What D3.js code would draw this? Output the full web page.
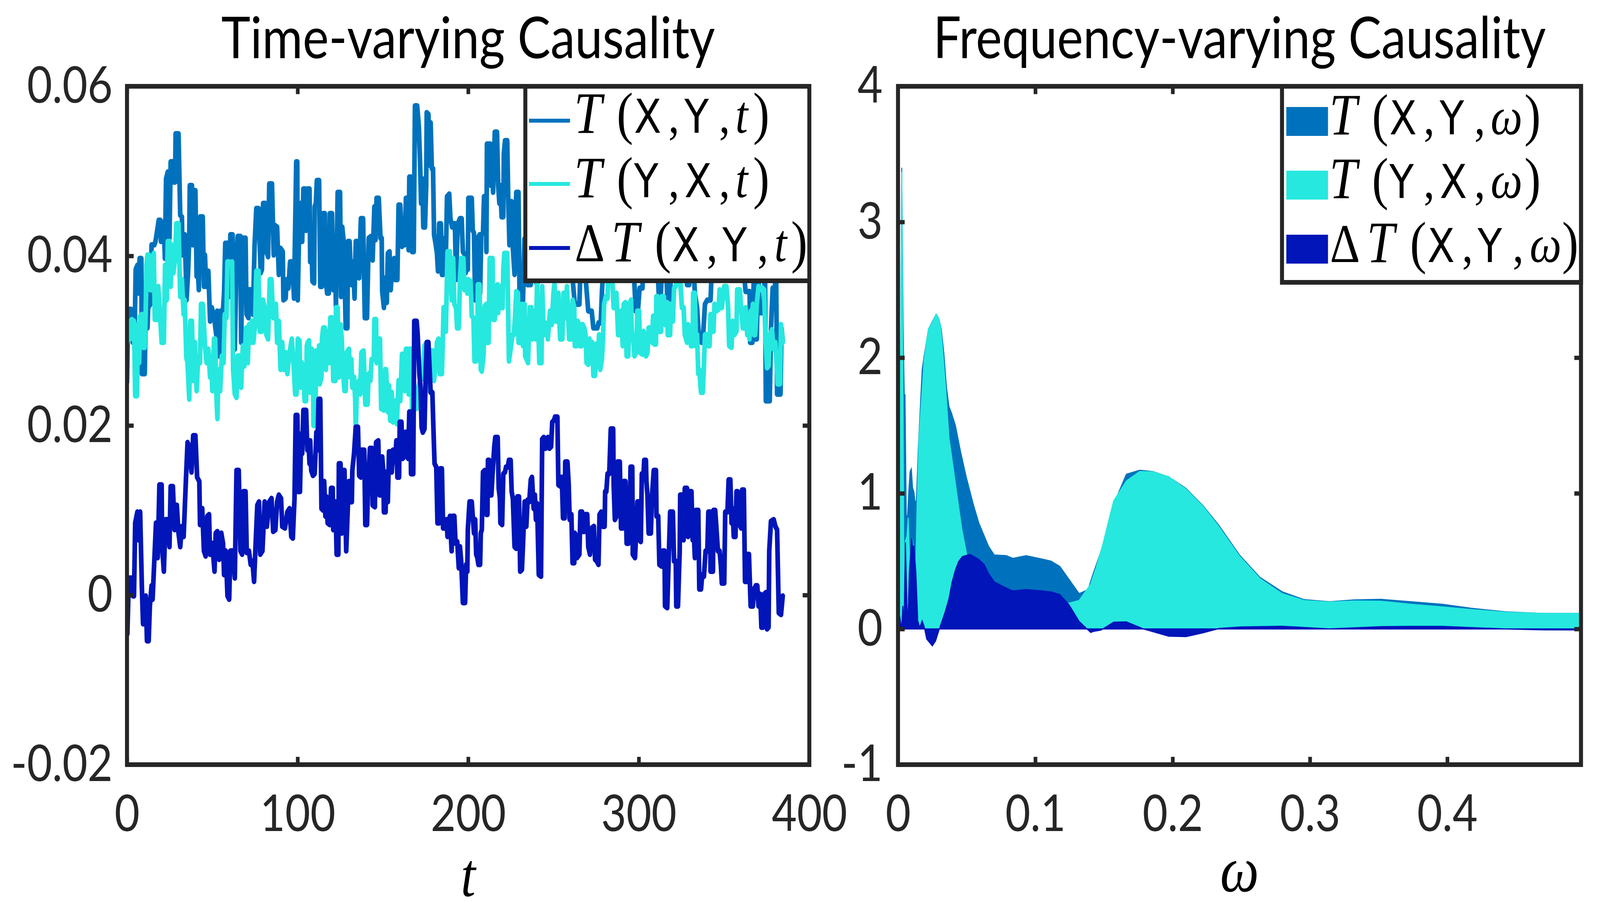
<!DOCTYPE html>
<html>
<head>
<meta charset="utf-8">
<script src="https://cdn.jsdelivr.net/npm/d3@7"></script>
<style>
  html, body { margin: 0; padding: 0; background: #fff; overflow: hidden; }
  svg { display: block; }
</style>
</head>
<body>
<div id="chart"></div>
<script>
// ---- left panel: causality over time, [t, value] ----
const timeXY = [[0,.0251],[0.8,.0337],[2.4,.0337],[3.4,.0298],[4.4,.0298],[5.1,.0384],[6.1,.0389],[6.8,.0356],[7.4,.0397],[8.4,.0397],[8.7,.0261],[10.4,.0261],[11,.0339],[12,.0315],[12.4,.0339],[13.7,.0343],[14.4,.0413],[16,.0413],[16.7,.0417],[17.7,.0430],[18.6,.0442],[19.6,.0442],[19.9,.0417],[20.9,.0417],[21.6,.0440],[22.2,.0397],[22.9,.0491],[23.9,.0499],[24.9,.0421],[25.6,.0511],[26.9,.0511],[27.2,.0487],[28.2,.0487],[28.5,.0544],[30.2,.0544],[31.2,.0448],[32.2,.0446],[32.5,.0401],[33.2,.0425],[33.9,.0425],[34.9,.0348],[35.8,.0380],[36.5,.0421],[36.8,.0483],[38.1,.0483],[38.5,.0413],[39.1,.0477],[40.1,.0477],[40.8,.0376],[41.4,.0389],[42.1,.0360],[42.8,.0446],[44.4,.0446],[45.1,.0364],[45.7,.0401],[46.4,.0364],[47.7,.0382],[48.7,.0323],[49.7,.0339],[51,.0329],[52.3,.0307],[52.9,.0335],[53.9,.0282],[54.9,.0335],[55.6,.0282],[56.3,.0337],[56.9,.0356],[57.6,.0415],[59.3,.0415],[59.9,.0352],[60.6,.0425],[61.9,.0425],[62.6,.0331],[63.2,.0290],[64.2,.0393],[64.9,.0423],[66.5,.0423],[66.9,.0298],[67.9,.0421],[69.5,.0421],[70.1,.0331],[71.2,.0327],[71.5,.0360],[72.8,.0360],[73.8,.0331],[74.8,.0413],[75.8,.0456],[77.1,.0456],[77.8,.0413],[78.4,.0380],[79.1,.0384],[79.8,.0462],[81.1,.0462],[81.7,.0405],[82.7,.0399],[83.4,.0485],[85,.0485],[86,.0401],[86.7,.0436],[88,.0434],[89,.0378],[90,.0409],[91.3,.0405],[91.7,.0348],[93,.0350],[93.6,.0372],[94.6,.0362],[95.6,.0393],[96.9,.0393],[97.9,.0350],[99.2,.0511],[99.8,.0511],
  [100.1,.0348],[100.7,.0409],[101.4,.0462],[102.1,.0458],[102.7,.0417],[103.4,.0479],[104.4,.0479],[105,.0430],[105.7,.0479],[107,.0479],[107.4,.0393],[108,.0434],[108.7,.0370],[109.7,.0368],[110,.0458],[110.7,.0462],[111.3,.0489],[112.6,.0489],[113.3,.0364],[114.3,.0364],[115,.0450],[116,.0450],[116.3,.0378],[117.3,.0356],[118.3,.0356],[118.9,.0450],[120.2,.0450],[120.9,.0360],[121.9,.0397],[122.5,.0339],[123.5,.0475],[124.9,.0475],[125.5,.0352],[126.2,.0434],[127.2,.0413],[128.2,.0315],[129.2,.0315],[129.5,.0417],[130.5,.0417],[131.5,.0366],[132.5,.0393],[133.4,.0350],[134.1,.0417],[135.1,.0417],[136.1,.0374],[137.1,.0444],[138.4,.0444],[139.4,.0327],[140.7,.0327],[141.7,.0421],[143,.0423],[144,.0395],[145,.0458],[145.7,.0419],[146.3,.0468],[147.6,.0468],[148.6,.0421],[149.3,.0421],[149.6,.0358],[150.6,.0339],[151.6,.0374],[152.3,.0345],[152.9,.0403],[153.9,.0405],[154.6,.0360],[155.6,.0393],[156.6,.0397],[157.2,.0372],[158.5,.0372],[159.2,.0460],[160.2,.0460],[161.2,.0411],[162.2,.0444],[162.8,.0413],[163.5,.0468],[164.5,.0468],[165.1,.0407],[165.5,.0493],[166.5,.0493],[167.1,.0405],[168.1,.0405],[168.8,.0577],[170.1,.0577],[171.1,.0552],[171.8,.0511],[172.4,.0462],[173.1,.0491],[173.7,.0434],[174.7,.0434],[175.4,.0483],[175.7,.0569],[176.7,.0567],[177.4,.0507],[178,.0557],[178.7,.0503],[179.4,.0503],[180,.0425],[181,.0413],[181.7,.0403],[182.3,.0382],[183,.0438],[184,.0438],[184.6,.0378],[185.3,.0378],[186.3,.0421],[186.9,.0395],[187.6,.0470],[188.9,.0473],[189.6,.0444],[190.6,.0434],[191.2,.0438],[192.2,.0438],[192.9,.0372],[193.9,.0438],[195.2,.0444],[196.2,.0444],[196.9,.0405],[198.2,.0401],[198.5,.0380],[199.2,.0384],[199.8,.0384],
  [200.1,.0468],[202.1,.0468],[202.7,.0430],[203.4,.0427],[204.1,.0348],[204.7,.0421],[205.7,.0421],[206.7,.0425],[207,.0356],[207.7,.0425],[208.7,.0427],[209.3,.0470],[210.3,.0470],[210.7,.0405],[211,.0532],[213,.0532],[213.3,.0483],[214,.0524],[214.6,.0475],[215.6,.0546],[216.9,.0546],[217.6,.0483],[218.3,.0462],[218.9,.0483],[219.6,.0446],[220.6,.0446],[220.9,.0520],[221.6,.0536],[222.9,.0536],[223.5,.0466],[224.2,.0413],[224.9,.0464],[225.5,.0464],[226.2,.0409],[227.2,.0378],[227.5,.0425],[228.2,.0475],[229.5,.0475],[230.1,.0356],[230.8,.0348],[231.5,.0380],[232.1,.0343],[233,.0420],[234.8,.0366],[236.7,.0366],[238,.0440],[240,.0368],[240.7,.0368],[242,.0452],[244,.0410],[246,.0470],[248,.0420],[250,.0445],[252,.0400],[254,.0460],[256,.0415],[258,.0438],[260,.0402],[262.5,.0343],[265.2,.0343],[266.5,.0430],[268,.0395],[270.4,.0335],[272.4,.0335],[273.4,.0315],[275.7,.0315],[276.4,.0321],[277.7,.0321],[278.4,.0356],[280,.0420],[282,.0395],[284,.0450],[286,.0410],[288,.0438],[290,.0400],[292,.0455],[294,.0412],[296,.0430],[298.2,.0335],[299.5,.0335],
  [300.5,.0362],[302.2,.0362],[303,.0420],[305,.0455],[307,.0405],[309,.0440],[310.5,.0410],[311.7,.0356],[313,.0356],[314.5,.0430],[316,.0400],[316.7,.0348],[318.4,.0348],[319.5,.0445],[321.5,.0405],[323.5,.0460],[325.5,.0415],[327,.0440],[328.3,.0366],[329.6,.0366],[331,.0430],[332.9,.0356],[334.2,.0339],[335.2,.0307],[336.2,.0307],[336.8,.0298],[337.5,.0298],[338.8,.0343],[340.2,.0348],[342.1,.0348],[343.5,.0420],[345.5,.0395],[347.5,.0445],[349.5,.0400],[351.5,.0430],[353.5,.0410],[355.5,.0450],[357.5,.0405],[359.5,.0440],[361,.0400],[362.6,.0358],[365,.0358],[365.3,.0298],[366.6,.0298],[367.5,.0380],[368.2,.0302],[369.2,.0302],[370,.0385],[370.9,.0333],[373.2,.0333],[374,.0390],[374.5,.0229],[376.8,.0229],[377.5,.0313],[378.5,.0362],[379.8,.0362],[380.5,.0390],[381.1,.0237],[383.1,.0237],[383.7,.0315],[384.4,.0300]];

const timeYX = [[0,.0298],[0.8,.0323],[1.8,.0302],[2.8,.0325],[4.1,.0323],[4.8,.0235],[5.8,.0235],[6.4,.0319],[7.1,.0274],[7.7,.0329],[8.7,.0331],[9.4,.0292],[10.4,.0292],[11,.0339],[11.4,.0389],[12,.0401],[13,.0401],[13.7,.0360],[14.7,.0360],[15.7,.0403],[16.3,.0325],[17.7,.0325],[18.3,.0364],[19,.0343],[20.3,.0298],[21.6,.0298],[22.3,.0389],[23.3,.0348],[23.9,.0417],[24.9,.0417],[25.6,.0364],[26.2,.0413],[27.2,.0380],[28.2,.0397],[28.9,.0438],[30.2,.0438],[31.2,.0352],[32.2,.0372],[33.2,.0331],[33.8,.0348],[34.8,.0280],[35.5,.0274],[36.5,.0231],[37.1,.0323],[38.1,.0323],[38.8,.0253],[39.8,.0298],[40.8,.0241],[41.8,.0282],[42.8,.0274],[43.4,.0343],[44.4,.0343],[45.1,.0319],[45.7,.0294],[46.7,.0274],[47.7,.0290],[48.7,.0257],[49.4,.0282],[50,.0241],[51,.0302],[51.7,.0302],[52.3,.0241],[53,.0208],[53.6,.0266],[54.6,.0241],[55.6,.0282],[56.6,.0274],[57.3,.0331],[58.3,.0327],[58.9,.0393],[59.9,.0393],[60.6,.0391],[61.6,.0393],[62.2,.0266],[63.2,.0237],[64.2,.0233],[64.9,.0282],[65.9,.0282],[66.9,.0245],[67.9,.0294],[68.8,.0270],[69.8,.0315],[70.8,.0274],[71.5,.0319],[72.5,.0298],[73.1,.0323],[74.1,.0298],[75.1,.0319],[75.8,.0382],[77.1,.0382],[77.8,.0311],[79.1,.0311],[79.7,.0348],[80.7,.0339],[81.7,.0307],[82.7,.0302],[83.7,.0372],[84.7,.0372],[85.7,.0327],[86.7,.0331],[87.3,.0343],[88,.0298],[89,.0323],[90,.0266],[91,.0298],[92,.0266],[93,.0286],[94,.0261],[95.3,.0286],[96.6,.0302],[97.6,.0274],[98.6,.0237],[99.4,.0237],
  [100.1,.0302],[101.1,.0300],[101.7,.0245],[102.4,.0274],[103.4,.0266],[104.1,.0229],[105,.0229],[105.4,.0294],[106,.0298],[106.7,.0300],[107.4,.0239],[108.3,.0290],[109,.0288],[109.3,.0200],[110.3,.0200],[111,.0288],[112,.0266],[112.6,.0294],[113,.0249],[114,.0257],[114.3,.0302],[115,.0315],[116,.0315],[116.6,.0266],[117.6,.0311],[118.6,.0274],[119.2,.0327],[120.2,.0327],[120.9,.0253],[122.2,.0253],[122.5,.0339],[123.5,.0339],[124.2,.0257],[125.2,.0319],[125.9,.0302],[126.5,.0266],[127.5,.0241],[128.2,.0241],[128.8,.0286],[130.1,.0290],[130.8,.0257],[131.5,.0278],[132.1,.0245],[133.1,.0257],[133.8,.0229],[134.1,.0192],[134.8,.0249],[136.1,.0253],[136.7,.0237],[137.4,.0286],[138.7,.0288],[139.7,.0225],[141,.0225],[141.7,.0261],[142.7,.0253],[143.4,.0278],[144.7,.0278],[145,.0325],[146,.0325],[146.3,.0274],[147.3,.0302],[148.3,.0302],[149,.0220],[150.6,.0218],[151.3,.0266],[151.9,.0266],[152.9,.0216],[153.6,.0247],[154.3,.0206],[155.2,.0239],[155.9,.0204],[157.2,.0229],[158.2,.0202],[159.2,.0253],[160.2,.0229],[161.2,.0284],[162.2,.0284],[162.8,.0241],[163.5,.0290],[164.5,.0290],[165.1,.0237],[165.8,.0290],[166.8,.0290],[167.1,.0220],[169.8,.0220],[170.8,.0245],[172.4,.0257],[173.4,.0255],[174.4,.0294],[175.7,.0298],[177,.0241],[178,.0288],[179.4,.0288],[180,.0253],[181,.0274],[181.7,.0298],[182.6,.0302],[183.3,.0261],[184.6,.0261],[185,.0290],[185.6,.0339],[186.9,.0311],[187.9,.0405],[189.3,.0405],[190.3,.0348],[191.2,.0397],[191.9,.0343],[192.9,.0339],[193.5,.0315],[194.5,.0315],[195.2,.0374],[195.9,.0397],[197.2,.0397],[197.8,.0360],[198.8,.0372],[199.5,.0356],
  [200.1,.0372],[201.4,.0370],[202.1,.0329],[203.1,.0327],[203.7,.0276],[204.7,.0276],[205.4,.0298],[205.7,.0366],[206.7,.0366],[207.4,.0266],[208,.0264],[209,.0282],[209.7,.0341],[210.7,.0343],[211,.0298],[212,.0298],[212.6,.0397],[214.3,.0397],[214.6,.0325],[215.6,.0325],[216.3,.0364],[217.3,.0366],[217.6,.0333],[218.3,.0358],[218.9,.0364],[219.2,.0339],[220.2,.0339],[220.6,.0384],[221.2,.0403],[222.9,.0403],[223.9,.0276],[224.9,.0290],[225.9,.0307],[226.8,.0307],[227.5,.0329],[228.2,.0358],[229.2,.0356],[229.5,.0298],[230.5,.0298],[231.5,.0343],[232.1,.0294],[233.1,.0343],[233.4,.0282],[235.1,.0274],[236.1,.0339],[237.1,.0339],[237.7,.0302],[238.7,.0335],[239.7,.0302],[240.4,.0368],[241.7,.0274],[243,.0274],[243.4,.0364],[244.3,.0307],[245.3,.0321],[246.7,.0302],[248,.0335],[249,.0319],[250,.0356],[250.6,.0368],[251.3,.0323],[252.3,.0323],[252.9,.0356],[253.9,.0302],[255.2,.0302],[255.9,.0356],[257.2,.0327],[257.9,.0364],[259.2,.0302],[260.5,.0302],[261.2,.0348],[262.2,.0339],[262.5,.0294],[263.5,.0294],[264.2,.0323],[265.2,.0319],[265.5,.0294],[266.5,.0294],[267.1,.0319],[268.1,.0315],[268.8,.0307],[269.4,.0274],[270.4,.0272],[271.1,.0302],[272.1,.0280],[272.7,.0298],[273.4,.0259],[274.4,.0259],[275.1,.0296],[276.1,.0270],[276.7,.0307],[277.4,.0266],[278.4,.0278],[279,.0302],[279.7,.0343],[280.7,.0352],[281.7,.0350],[282.3,.0389],[283.3,.0389],[284.3,.0380],[285.3,.0339],[286.3,.0339],[286.9,.0356],[287.9,.0307],[288.9,.0307],[289.6,.0335],[290.6,.0294],[291.2,.0343],[292.2,.0345],[292.9,.0282],[293.9,.0282],[294.5,.0343],[295.5,.0348],[295.9,.0311],[296.9,.0298],[297.5,.0282],[298.5,.0286],[299.2,.0335],
  [300.2,.0335],[300.8,.0286],[302.2,.0284],[302.8,.0311],[303.5,.0307],[304.2,.0282],[305.1,.0286],[305.8,.0315],[307.1,.0315],[307.8,.0298],[308.4,.0329],[309.1,.0296],[310.1,.0296],[310.3,.0352],[311.1,.0352],[311.7,.0311],[313.1,.0311],[313.4,.0352],[314.7,.0352],[315.4,.0319],[316,.0319],[316.7,.0345],[317,.0307],[318.4,.0307],[318.7,.0343],[319.3,.0327],[320,.0323],[320.7,.0362],[321.7,.0364],[323,.0380],[324.3,.0372],[325.3,.0339],[326.3,.0339],[327,.0307],[328.3,.0298],[328.9,.0319],[329.9,.0315],[330.6,.0294],[331.6,.0294],[331.9,.0356],[332.9,.0356],[333.5,.0294],[334.2,.0307],[334.9,.0261],[335.5,.0266],[336.5,.0239],[337.5,.0239],[338.2,.0270],[338.8,.0307],[340.2,.0307],[340.5,.0294],[341.5,.0294],[342.1,.0331],[342.8,.0311],[343.8,.0311],[344.4,.0343],[345.4,.0335],[346.8,.0337],[347.4,.0360],[348.7,.0339],[350.1,.0364],[351.4,.0364],[352.4,.0339],[353,.0294],[354.4,.0292],[355,.0323],[356,.0307],[357.3,.0311],[357.7,.0360],[359.3,.0360],[360,.0339],[361,.0315],[362.3,.0315],[362.6,.0339],[363.6,.0307],[364.3,.0331],[364.9,.0302],[365.6,.0335],[366.2,.0315],[366.9,.0343],[367.6,.0307],[368.2,.0307],[369.2,.0343],[370.2,.0364],[371.2,.0360],[372.5,.0362],[373.5,.0360],[374.2,.0307],[375.2,.0268],[376.1,.0270],[376.8,.0307],[378.1,.0313],[379.1,.0290],[380.1,.0298],[380.8,.0274],[381.4,.0249],[382.8,.0249],[383.4,.0319],[384.4,.0298]];

const timeDelta = [[0.2,-.0046],[1.1,.0020],[2.8,.0020],[3.5,-.0001],[4.1,-.0001],[4.8,.0085],[6.1,.0098],[6.8,.0065],[7.7,.0098],[8.7,.0011],[9.4,-.0034],[10.4,-.0030],[11,-.0001],[11.7,-.0054],[12.7,-.0054],[13.4,-.0013],[14.4,.0011],[15,-.0005],[16,.0040],[17,.0085],[18,.0044],[19,.0130],[20.3,.0130],[20.6,.0057],[21.6,.0028],[22.6,.0089],[24.3,.0089],[24.9,.0057],[25.6,.0128],[26.9,.0128],[27.9,.0077],[29.2,.0106],[30.2,.0073],[31.2,.0057],[32.2,.0081],[33.2,.0069],[34.5,.0134],[35.5,.0180],[36.5,.0175],[37.8,.0145],[38.8,.0188],[40.1,.0188],[41.1,.0139],[42.4,.0134],[42.8,.0083],[44.1,.0102],[45.1,.0052],[46.1,.0046],[47.1,.0093],[48.1,.0095],[48.7,.0048],[50,.0061],[51.3,.0028],[52,.0073],[53,.0075],[54,.0042],[55.3,.0073],[56.3,.0061],[56.9,.0024],[57.9,.0052],[58.9,-.0001],[59.9,-.0005],[60.6,.0052],[62.2,.0052],[63.2,.0020],[64.2,.0147],[65.5,.0147],[66.5,.0052],[67.5,.0048],[68.2,.0122],[69.5,.0122],[70.2,.0050],[71.5,.0052],[72.5,.0036],[73.5,.0040],[74.5,.0016],[75.5,.0065],[76.4,.0106],[77.4,.0110],[78.1,.0048],[79.4,.0052],[80.7,.0110],[82,.0081],[83.4,.0110],[84.7,.0114],[85.7,.0075],[87,.0077],[88,.0110],[89,.0118],[90.3,.0114],[91,.0081],[92.6,.0079],[94,.0098],[95.3,.0102],[96.3,.0069],[97.2,.0067],[98.2,.0114],[98.9,.0212],[99.9,.0212],
  [100.4,.0122],[101.4,.0122],[102.1,.0190],[102.7,.0167],[103.4,.0218],[105,.0218],[105.7,.0171],[106.4,.0182],[107,.0155],[107.4,.0182],[108,.0147],[109,.0141],[110,.0143],[110.7,.0175],[111,.0192],[111.6,.0171],[112.3,.0231],[113.3,.0231],[114,.0102],[115,.0100],[115.6,.0134],[116.3,.0093],[116.9,.0116],[117.6,.0085],[118.9,.0083],[119.6,.0126],[120.6,.0126],[120.9,.0077],[121.6,.0077],[122.2,.0110],[122.9,.0048],[123.9,.0048],[124.2,.0155],[125.2,.0155],[125.9,.0073],[126.5,.0147],[127.5,.0147],[128.5,.0052],[129.5,.0106],[130.1,.0134],[131.1,.0110],[131.8,.0110],[132.1,.0147],[133.1,.0167],[134.1,.0198],[135.4,.0198],[136.1,.0141],[137.1,.0139],[137.4,.0171],[139.1,.0171],[139.7,.0083],[140.7,.0083],[141.4,.0134],[142.4,.0173],[143.7,.0173],[144,.0106],[145.3,.0104],[146,.0180],[147.3,.0182],[148,.0118],[148.9,.0118],[149.6,.0163],[150.3,.0145],[150.6,.0098],[151.6,.0098],[151.9,.0145],[152.9,.0110],[153.6,.0169],[154.6,.0169],[155.2,.0145],[155.9,.0171],[156.9,.0171],[157.2,.0157],[157.9,.0182],[158.5,.0139],[159.5,.0139],[159.9,.0204],[160.9,.0204],[161.5,.0161],[162.5,.0163],[163.2,.0192],[164.2,.0192],[164.8,.0161],[165.5,.0216],[166.1,.0216],[166.5,.0143],[167.8,.0143],[168.4,.0323],[169.8,.0323],[170.4,.0307],[171.4,.0261],[172.1,.0245],[172.7,.0198],[173.4,.0192],[174.4,.0196],[175.1,.0261],[175.7,.0298],[176.7,.0298],[177.4,.0266],[178,.0239],[179,.0239],[179.7,.0192],[180.3,.0155],[181.3,.0151],[182,.0085],[183,.0085],[183.6,.0149],[184.6,.0149],[185.3,.0079],[186.3,.0079],[187.3,.0089],[187.9,.0069],[188.6,.0087],[189.3,.0093],[190.3,.0052],[190.9,.0093],[191.9,.0093],[192.6,.0061],[193.6,.0063],[194.5,.0032],[195.2,.0057],[195.9,.0040],[196.9,-.0009],[198.2,-.0009],[198.8,.0036],[199.5,.0028],
  [199.8,.0077],[200.8,.0110],[202.1,.0110],[202.7,.0093],[203.4,.0073],[204.1,.0089],[204.7,.0048],[205.4,.0044],[206,.0036],[207,.0036],[207.4,.0073],[208,.0077],[208.7,.0145],[209.7,.0147],[210.7,.0095],[211.3,.0095],[211.6,.0159],[212.3,.0159],[212.6,.0118],[213.6,.0118],[214.3,.0143],[215.3,.0175],[215.9,.0186],[217.3,.0186],[217.9,.0126],[218.6,.0114],[218.9,.0085],[219.9,.0083],[220.6,.0143],[221.6,.0145],[222.2,.0151],[223.2,.0151],[223.9,.0159],[224.9,.0159],[225.5,.0122],[226.2,.0114],[227.2,.0057],[228.2,.0055],[228.8,.0116],[229.8,.0116],[230.5,.0028],[231.5,.0030],[232.1,.0057],[233.1,.0110],[234.1,.0081],[234.8,.0112],[235.8,.0110],[236.7,.0136],[237.4,.0139],[238.4,.0102],[239.1,.0118],[239.7,.0089],[240.4,.0108],[241.4,.0024],[242.7,.0022],[243.4,.0184],[244.3,.0186],[245.3,.0173],[246.7,.0186],[247.6,.0173],[248.6,.0175],[249.3,.0204],[250.3,.0206],[250.9,.0210],[252.3,.0210],[252.9,.0130],[254.3,.0128],[254.9,.0139],[255.6,.0091],[256.6,.0091],[256.9,.0157],[258.2,.0157],[258.9,.0132],[259.5,.0089],[260.5,.0095],[261.2,.0038],[262.2,.0038],[262.5,.0073],[263.5,.0069],[263.8,.0044],[265.2,.0048],[265.8,.0098],[266.8,.0098],[267.5,.0075],[268.1,.0075],[268.8,.0095],[269.8,.0095],[270.4,.0057],[271.4,.0048],[272.4,.0079],[273.7,.0081],[274.4,.0042],[275.4,.0040],[276.4,.0036],[277,.0095],[278,.0098],[279,.0081],[280,.0081],[280.3,.0122],[281,.0122],[281.7,.0143],[282.7,.0143],[283.6,.0196],[285,.0196],[285.3,.0130],[286,.0089],[287,.0093],[287.6,.0157],[288.9,.0157],[289.6,.0079],[290.6,.0079],[291.2,.0134],[292.2,.0134],[292.9,.0061],[293.9,.0061],[294.5,.0067],[295.2,.0151],[296.2,.0151],[296.5,.0048],[297.8,.0044],[298.5,.0073],[299.2,.0110],
  [300.2,.0110],[300.5,.0065],[301.2,.0063],[301.8,.0143],[302.8,.0143],[303.2,.0159],[304.2,.0159],[304.5,.0134],[305.1,.0118],[305.8,.0073],[307.1,.0073],[307.8,.0118],[308.8,.0147],[310.1,.0147],[310.4,.0093],[311.4,.0093],[312.1,.0036],[313.4,.0034],[314.1,.0052],[315.1,.0052],[315.4,-.0013],[316.7,-.0015],[317.4,.0032],[318.4,.0098],[320,.0098],[320.7,.0040],[321.7,.0040],[322,-.0013],[323,-.0013],[324,.0052],[324.3,.0118],[325.6,.0118],[326.3,.0065],[327,.0126],[328.3,.0126],[328.9,.0069],[329.6,.0122],[330.9,.0122],[331.6,.0065],[332.2,.0077],[332.9,.0044],[333.5,.0100],[334.9,.0100],[335.5,.0007],[336.5,.0007],[337.2,.0024],[338.2,.0022],[339.2,.0052],[340.2,.0052],[340.8,.0098],[341.8,.0098],[342.1,.0028],[343.5,.0028],[343.8,.0100],[344.8,.0100],[345.4,.0083],[346.4,.0052],[347.4,.0052],[348.1,.0036],[348.7,.0014],[350.1,.0014],[350.7,.0098],[352,.0098],[352.7,.0136],[353.7,.0136],[354.4,.0085],[355,.0102],[355.7,.0069],[356.7,.0069],[357.3,.0122],[358,.0122],[358.6,.0085],[360,.0079],[360.6,.0124],[361.6,.0124],[362.3,.0016],[363.3,.0016],[363.9,.0048],[364.6,.0048],[365.6,-.0013],[366.9,-.0013],[367.6,.0007],[368.6,.0011],[369.5,.0011],[370.2,-.0013],[371.2,.0001],[371.9,-.0038],[372.8,-.0038],[373.5,.0001],[374.5,.0003],[375.2,-.0040],[376.1,-.0038],[376.5,.0052],[377.5,.0087],[379.1,.0089],[380.1,.0081],[381.1,.0077],[382.1,-.0021],[383.4,-.0023],[384.4,-.0001]];

// ---- right panel: causality over frequency, [omega, value] ----
const freqXY = [[0,1.90],[0.0018,1.71],[0.0027,3.40],[0.0037,2.26],[0.0046,1.69],[0.0051,1.73],[0.0060,0.84],[0.0069,0.82],[0.0079,1.02],[0.0088,1.16],[0.0097,1.18],[0.0106,1.04],[0.0116,1.01],[0.0125,0.92],[0.0134,0.95],[0.0148,1.33],[0.0176,1.91],[0.0190,2.01],[0.0222,2.21],[0.0278,2.32],[0.0297,2.29],[0.0315,2.21],[0.0334,2.03],[0.0353,1.78],[0.0371,1.64],[0.0390,1.59],[0.0418,1.50],[0.0455,1.31],[0.0497,1.12],[0.0548,0.92],[0.0589,0.78],[0.0659,0.61],[0.0701,0.545],[0.0789,0.54],[0.0836,0.52],[0.0933,0.54],[0.1049,0.515],[0.1114,0.50],[0.1179,0.46],[0.1319,0.26],[0.1384,0.29],[0.1422,0.41],[0.1502,0.64],[0.1571,0.92],[0.1663,1.14],[0.1760,1.17],[0.1857,1.16],[0.1972,1.12],[0.2098,1.035],[0.2224,0.905],[0.2339,0.76],[0.2487,0.545],[0.2636,0.38],[0.2797,0.274],[0.2957,0.216],[0.3141,0.200],[0.3323,0.214],[0.3518,0.218],[0.3736,0.200],[0.3965,0.182],[0.4171,0.153],[0.4423,0.126],[0.4698,0.114],[0.4974,0.114]];

const freqYX = [[0,0.57],[0.0011,0.57],[0.0023,2.60],[0.0027,3.37],[0.0032,2.65],[0.0039,1.17],[0.0044,0.05],[0.0051,0.64],[0.0065,0.68],[0.0074,0.82],[0.0088,0.42],[0.0102,0.67],[0.0130,0.47],[0.0139,0.91],[0.0153,1.41],[0.0176,1.76],[0.0190,1.98],[0.0209,2.13],[0.0222,2.21],[0.0250,2.26],[0.0278,2.32],[0.0297,2.29],[0.0311,2.22],[0.0329,2.01],[0.0348,1.76],[0.0371,1.41],[0.0399,1.21],[0.0436,0.94],[0.0464,0.74],[0.0501,0.545],[0.0548,0.39],[0.0659,0.17],[0.0701,0.19],[0.0836,0.24],[0.0933,0.255],[0.1114,0.225],[0.1179,0.20],[0.1244,0.19],[0.1319,0.21],[0.1403,0.33],[0.1445,0.46],[0.1491,0.62],[0.1525,0.76],[0.1571,0.945],[0.1663,1.09],[0.1760,1.16],[0.1857,1.158],[0.1972,1.12],[0.2098,1.03],[0.2224,0.90],[0.2339,0.75],[0.2487,0.536],[0.2636,0.371],[0.2797,0.26],[0.2957,0.21],[0.3141,0.198],[0.3323,0.206],[0.3518,0.204],[0.3736,0.182],[0.3965,0.162],[0.4171,0.143],[0.4423,0.123],[0.4698,0.114],[0.4974,0.114]];

const freqDelta = [[0,0.0],[0.0011,0.10],[0.0027,0.0],[0.0035,0.17],[0.0044,0.05],[0.0054,0.64],[0.0065,0.17],[0.0072,0.05],[0.0083,0.42],[0.0100,0.67],[0.0106,0.61],[0.0116,0.61],[0.0130,0.42],[0.0144,0.06],[0.0158,0.01],[0.0176,0.06],[0.0190,0.02],[0.0209,-0.074],[0.0250,-0.124],[0.0274,-0.087],[0.0301,0.0],[0.0343,0.124],[0.0371,0.223],[0.0394,0.347],[0.0418,0.434],[0.0441,0.496],[0.0469,0.533],[0.0524,0.55],[0.0585,0.515],[0.0627,0.476],[0.0659,0.41],[0.0701,0.347],[0.0761,0.315],[0.0836,0.28],[0.0933,0.29],[0.1049,0.28],[0.1114,0.273],[0.1179,0.253],[0.1244,0.18],[0.1319,0.055],[0.1403,-0.025],[0.1422,-0.018],[0.1479,-0.008],[0.1571,0.05],[0.1663,0.052],[0.1789,0.0],[0.1972,-0.053],[0.2098,-0.056],[0.2224,-0.027],[0.2339,0.004],[0.2499,0.015],[0.2797,0.02],[0.3141,0.0],[0.3518,0.017],[0.3736,0.019],[0.3965,0.019],[0.4423,0.0],[0.4698,-0.006],[0.4974,-0.007]];

// ---- ticks ----
const timeTicks = [0, 100, 200, 300, 400];
const timeValueTicks = [-0.02, 0, 0.02, 0.04, 0.06];
const timeValueLabels = ["-0.02", "0", "0.02", "0.04", "0.06"];
const freqTicks = [0, 0.1, 0.2, 0.3, 0.4];
const freqTickLabels = ["0", "0.1", "0.2", "0.3", "0.4"];
const freqValueTicks = [-1, 0, 1, 2, 3, 4];

const colXY = "#0072BD", colYX = "#26E8DE", colDelta = "#0115B9";
const axisCol = "#262626";

// drawn in a 4800 x 2343 frame that is stretched to fill the window
const W = 4800, H = 2343;
const vw = window.innerWidth || W;
const vh = Math.max(window.innerHeight || 0, document.documentElement.clientHeight || 0) || H;
const svg = d3.select("#chart").append("svg")
  .attr("viewBox", `0 0 ${W} ${H}`)
  .attr("preserveAspectRatio", "none")
  .attr("width", vw).attr("height", vh);
svg.append("rect").attr("width", W).attr("height", H).attr("fill", "#fff");

const plotTop = 221, plotBottom = 1958;
const x1 = d3.scaleLinear().domain([0, 400]).range([381, 2428]);
const y1 = d3.scaleLinear().domain([-0.02, 0.06]).range([plotBottom, plotTop]);
const x2 = d3.scaleLinear().domain([0, 0.4974]).range([2694, 4743]);
const y2 = d3.scaleLinear().domain([-1, 4]).range([plotBottom, plotTop]);

const defs = svg.append("defs");
function clip(id, x, y) {
  defs.append("clipPath").attr("id", id).append("rect")
    .attr("x", x.range()[0]).attr("y", y.range()[1])
    .attr("width", x.range()[1] - x.range()[0]).attr("height", y.range()[0] - y.range()[1]);
}
clip("clipL", x1, y1);
clip("clipR", x2, y2);

// left: lines
const gL = svg.append("g").attr("clip-path", "url(#clipL)");
const line = d3.line().x(d => x1(d[0])).y(d => y1(d[1]));
[[timeXY, colXY], [timeYX, colYX], [timeDelta, colDelta]].forEach(([data, c]) => {
  gL.append("path").datum(data)
    .attr("fill", "none").attr("stroke", c).attr("stroke-width", 14)
    .attr("stroke-linejoin", "round").attr("stroke-linecap", "round")
    .attr("d", line);
});

// right: overlapping areas
const gR = svg.append("g").attr("clip-path", "url(#clipR)");
const area = d3.area().x(d => x2(d[0])).y0(y2(0)).y1(d => y2(d[1]));
[[freqXY, colXY], [freqYX, colYX], [freqDelta, colDelta]].forEach(([data, c]) => {
  gR.append("path").datum(data)
    .attr("fill", c).attr("stroke", c).attr("stroke-width", 3)
    .attr("d", area);
});

// axes (ticks inside, mirrored, box on)
function axes(x, y, xt, xfmt, yt, yfmt, ypad) {
  const styleAxis = g => {
    g.select(".domain").remove();
    g.selectAll(".tick line").attr("stroke", axisCol).attr("stroke-width", 11);
    g.attr("font-family", "Lato, 'Open Sans', sans-serif").attr("font-size", 130)
      .attr("color", axisCol);
  };
  svg.append("g").attr("transform", `translate(0,${y.range()[0]})`)
    .call(d3.axisBottom(x).tickValues(xt).tickFormat(xfmt).tickSize(-20).tickPadding(78))
    .call(styleAxis);
  svg.append("g").attr("transform", `translate(0,${y.range()[1]})`)
    .call(d3.axisTop(x).tickValues(xt).tickFormat("").tickSize(-20))
    .call(styleAxis);
  svg.append("g").attr("transform", `translate(${x.range()[0]},0)`)
    .call(d3.axisLeft(y).tickValues(yt).tickFormat(yfmt).tickSize(-20).tickPadding(ypad))
    .call(styleAxis);
  svg.append("g").attr("transform", `translate(${x.range()[1]},0)`)
    .call(d3.axisRight(y).tickValues(yt).tickFormat("").tickSize(-20))
    .call(styleAxis);
  svg.append("rect")
    .attr("x", x.range()[0]).attr("y", y.range()[1])
    .attr("width", x.range()[1] - x.range()[0]).attr("height", y.range()[0] - y.range()[1])
    .attr("fill", "none").attr("stroke", axisCol).attr("stroke-width", 12);
}
axes(x1, y1, timeTicks, d => d, timeValueTicks, (d, i) => timeValueLabels[i], 43);
axes(x2, y2, freqTicks, (d, i) => freqTickLabels[i], freqValueTicks, d => d, 46);

// titles
const titleFont = "Lato, 'Open Sans', sans-serif";
svg.append("text").attr("x", d3.mean(x1.range())).attr("y", 149)
  .attr("text-anchor", "middle").attr("font-family", titleFont).attr("font-size", 148)
  .text("Time-varying Causality");
svg.append("text").attr("x", d3.mean(x2.range())).attr("y", 149)
  .attr("text-anchor", "middle").attr("font-family", titleFont).attr("font-size", 148)
  .text("Frequency-varying Causality");

// axis labels
const mathFont = "'Liberation Serif', 'DejaVu Serif', serif";
svg.append("text").attr("x", d3.mean(x1.range())).attr("y", 2294)
  .attr("text-anchor", "middle").attr("font-family", mathFont).attr("font-style", "italic")
  .attr("font-size", 158).text("t");
svg.append("text").attr("x", d3.mean(x2.range())).attr("y", 2282)
  .attr("text-anchor", "middle").attr("font-family", mathFont).attr("font-style", "italic")
  .attr("font-size", 165).text("ω");

// legends: math-like labels built glyph by glyph
const pieceStyle = {
  cal:   ["'Liberation Serif', serif", "italic", 150],
  delta: ["'Liberation Serif', serif", "normal", 140],
  paren: ["'Liberation Serif', serif", "normal", 148],
  sans:  ["'DejaVu Sans', sans-serif", "normal", 120],
  comma: ["'Liberation Serif', serif", "normal", 132],
  ital:  ["'Liberation Serif', serif", "italic", 135]
};
function legendText(x0, baseline, pieces) {
  pieces.forEach(([kind, txt, dx]) => {
    const s = pieceStyle[kind];
    svg.append("text").attr("x", x0 + dx).attr("y", baseline)
      .attr("font-family", s[0]).attr("font-style", s[1]).attr("font-size", s[2])
      .attr("fill", "#000").text(txt);
  });
}
const rowA = (a, b, v, close) => [["cal","T",0],["paren","(",128],["sans",a,180],["comma",",",283],["sans",b,331],["comma",",",435],["ital",v,484],["paren",")",close]];
const rowD = (v, close) => [["delta","Δ",2],["cal","T",112],["paren","(",242],["sans","X",294],["comma",",",398],["sans","Y",445],["comma",",",550],["ital",v,601],["paren",")",close]];

// left legend
svg.append("rect").attr("x", 1576).attr("y", 221).attr("width", 852).attr("height", 498)
  .attr("fill", "#fff").attr("stroke", axisCol).attr("stroke-width", 12);
[[colXY, 309, 340, rowA("X","Y","t",537)], [colYX, 471, 505, rowA("Y","X","t",537)], [colDelta, 635, 669, rowD("t",651)]]
  .forEach(([c, ly, base, pieces]) => {
    svg.append("line").attr("x1", 1587).attr("x2", 1710).attr("y1", ly).attr("y2", ly)
      .attr("stroke", c).attr("stroke-width", 10);
    legendText(1722, base, pieces);
  });

// right legend
svg.append("rect").attr("x", 3846).attr("y", 221).attr("width", 897).attr("height", 502)
  .attr("fill", "#fff").attr("stroke", axisCol).attr("stroke-width", 12);
[[colXY, 311, 344, rowA("X","Y","ω",585)], [colYX, 474, 507, rowA("Y","X","ω",585)], [colDelta, 638, 671, rowD("ω",698)]]
  .forEach(([c, cy, base, pieces]) => {
    svg.append("rect").attr("x", 3859).attr("y", cy - 37).attr("width", 125).attr("height", 74)
      .attr("fill", c);
    legendText(3988, base, pieces);
  });
</script>
</body>
</html>
